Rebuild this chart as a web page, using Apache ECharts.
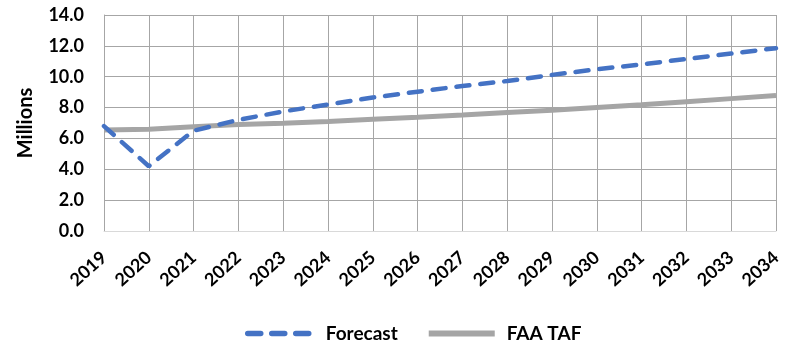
<!DOCTYPE html>
<html>
<head>
<meta charset="utf-8">
<script src="https://cdn.jsdelivr.net/npm/echarts@6/dist/echarts.min.js"></script>
<style>
  html, body { margin: 0; padding: 0; background: #ffffff; }
  #chart { width: 790px; height: 341px; }
</style>
</head>
<body>
<div id="chart"></div>
<script>
// Years on the category axis
const years = ['2019', '2020', '2021', '2022', '2023', '2024', '2025', '2026',
               '2027', '2028', '2029', '2030', '2031', '2032', '2033', '2034'];

// Enplanements, in millions
const forecast = [6.8, 4.2, 6.5, 7.2, 7.75, 8.2, 8.65, 9.03, 9.4, 9.72, 10.12, 10.48, 10.8, 11.15, 11.5, 11.85];
const faaTaf   = [6.55, 6.59, 6.75, 6.9, 6.98, 7.1, 7.24, 7.37, 7.52, 7.68, 7.82, 8.0, 8.18, 8.38, 8.58, 8.78];

// Value axis ticks
const yMin = 0, yMax = 14, yStep = 2;

const FONT = 'Lato, "Liberation Sans", sans-serif';
const GRID_COLOR = '#a6a6a6';
const BLUE = '#4472c4';
const GREY = '#a5a5a5';
const DASH = [13, 11];

const chart = echarts.init(document.getElementById('chart'), null, { renderer: 'canvas' });

chart.setOption({
  animation: false,
  backgroundColor: '#ffffff',
  grid: { left: 104, right: 14, top: 15, height: 216, containLabel: false },
  legend: {
    left: 240,
    top: 319,
    itemWidth: 66,
    itemHeight: 14,
    itemGap: 28,
    itemStyle: { opacity: 0 },
    textStyle: {
      fontFamily: FONT, fontWeight: 'bold', fontSize: 19, color: '#000',
      padding: [0, 0, 0, 7]
    },
    data: [
      { name: 'Forecast', lineStyle: { width: 5.5, color: BLUE, type: DASH, cap: 'round' } },
      { name: 'FAA TAF', lineStyle: { width: 6, color: GREY } }
    ]
  },
  xAxis: {
    type: 'category',
    data: years,
    boundaryGap: false,
    axisLine: { show: true, lineStyle: { color: '#d9d9d9', width: 1 } },
    axisTick: { show: false },
    splitLine: { show: true, lineStyle: { color: GRID_COLOR, width: 1 } },
    axisLabel: {
      rotate: 42,
      margin: 24,
      interval: 0,
      fontFamily: FONT,
      fontWeight: 'bold',
      fontSize: 18,
      color: '#000'
    }
  },
  yAxis: {
    type: 'value',
    min: yMin,
    max: yMax,
    interval: yStep,
    name: 'Millions',
    nameLocation: 'middle',
    nameGap: 68,
    nameTextStyle: { fontFamily: FONT, fontWeight: 'bold', fontSize: 20, color: '#000' },
    axisLine: { show: true, lineStyle: { color: GRID_COLOR, width: 1 } },
    axisTick: { show: false },
    splitLine: { show: true, lineStyle: { color: GRID_COLOR, width: 1 } },
    axisLabel: {
      margin: 20,
      fontFamily: FONT,
      fontWeight: 'bold',
      fontSize: 18,
      color: '#000',
      formatter: v => v.toFixed(1)
    }
  },
  series: [
    {
      name: 'Forecast',
      type: 'line',
      data: forecast,
      symbol: 'none',
      z: 3,
      itemStyle: { color: BLUE },
      lineStyle: { color: BLUE, width: 4.5, type: DASH, cap: 'round' }
    },
    {
      name: 'FAA TAF',
      type: 'line',
      data: faaTaf,
      symbol: 'none',
      z: 2,
      itemStyle: { color: GREY },
      lineStyle: { color: GREY, width: 5 }
    }
  ]
});
</script>
</body>
</html>
